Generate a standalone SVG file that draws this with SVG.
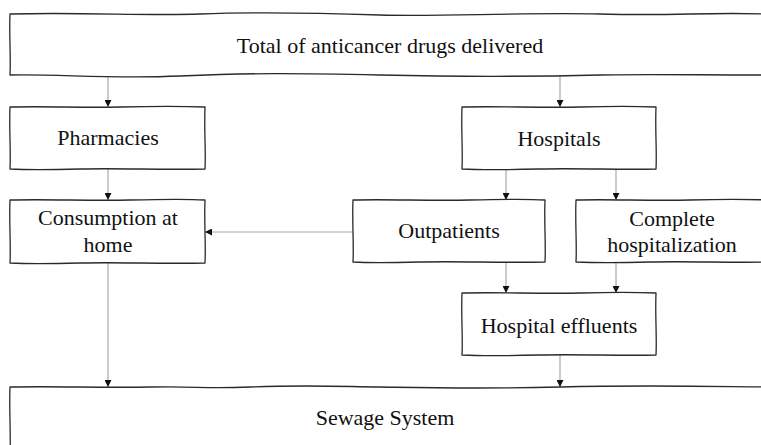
<svg xmlns="http://www.w3.org/2000/svg" width="761" height="445" viewBox="0 0 761 445">
<style>
.box{fill:#fff;stroke:#2a2a2a;stroke-width:1.3;stroke-linejoin:round}
.lbl{font-family:"Liberation Serif","Times New Roman",serif;font-size:22px;fill:#111;text-anchor:middle}
.con{stroke:#a8a8a8;stroke-width:1.2;fill:none}
</style>
<defs>
<marker id="ah" viewBox="0 0 10 10" refX="10" refY="5" markerWidth="7" markerHeight="7" markerUnits="userSpaceOnUse" orient="auto">
<path d="M0,0 L10,5 L0,10 Z" fill="#111"/>
</marker>
</defs>
<rect width="761" height="445" fill="#fff"/>
<g id="connectors">
<path class="con" d="M108,75 V107" marker-end="url(#ah)"/>
<path class="con" d="M560,75 V107" marker-end="url(#ah)"/>
<path class="con" d="M108,169 V200" marker-end="url(#ah)"/>
<path class="con" d="M506,169 V200" marker-end="url(#ah)"/>
<path class="con" d="M616,169 V200" marker-end="url(#ah)"/>
<path class="con" d="M353,232 H205" marker-end="url(#ah)"/>
<path class="con" d="M506,262 V293" marker-end="url(#ah)"/>
<path class="con" d="M616,262 V293" marker-end="url(#ah)"/>
<path class="con" d="M108,263 V387" marker-end="url(#ah)"/>
<path class="con" d="M560,355 V387" marker-end="url(#ah)"/>
</g>
<g id="total">
<path class="box" d="M10,14 C80,12 150,16 200,14 S320,13 380,15 S520,12 600,14 S700,12 770,14 L770,75 C700,75 640,74 600,75 S470,77 380,75 S250,73 180,76 S60,74 10,75 C11,55 9,35 10,14 Z"/>
<text class="lbl" x="390" y="53">Total of anticancer drugs delivered</text>
</g>
<g id="pharmacies">
<path class="box" d="M10,107 C50,106 80,108 120,107 S180,106 205,107 C204,130 206,150 205,169 C160,170 120,168 80,169 S30,170 10,169 C11,150 9,130 10,107 Z"/>
<text class="lbl" x="108" y="145">Pharmacies</text>
</g>
<g id="hospitals">
<path class="box" d="M462,107 C500,106 540,108 580,107 S630,106 656,107 C655,130 657,150 656,169 C620,170 580,168 540,169 S480,170 462,169 C463,150 461,130 462,107 Z"/>
<text class="lbl" x="559" y="146">Hospitals</text>
</g>
<g id="consumption">
<path class="box" d="M10,200 C50,199 90,201 130,200 S190,199 205,200 C204,222 206,244 205,263 C160,264 120,262 80,263 S30,264 10,263 C11,244 9,222 10,200 Z"/>
<text class="lbl" x="108" y="225">Consumption at</text>
<text class="lbl" x="108" y="252">home</text>
</g>
<g id="outpatients">
<path class="box" d="M353,200 C390,199 430,201 470,200 S530,199 545,200 C544,222 546,244 545,262 C500,263 460,261 420,262 S370,263 353,262 C354,244 352,222 353,200 Z"/>
<text class="lbl" x="449" y="238">Outpatients</text>
</g>
<g id="complete">
<path class="box" d="M576,200 C610,199 650,201 690,200 S740,199 770,200 L770,262 C730,263 690,261 650,262 S600,263 576,262 C577,244 575,222 576,200 Z"/>
<text class="lbl" x="672" y="226">Complete</text>
<text class="lbl" x="672" y="252">hospitalization</text>
</g>
<g id="effluents">
<path class="box" d="M462,293 C500,292 540,294 580,293 S630,292 656,293 C655,315 657,337 656,355 C620,356 580,354 540,355 S480,356 462,355 C463,337 461,315 462,293 Z"/>
<text class="lbl" x="559" y="333">Hospital effluents</text>
</g>
<g id="sewage">
<path class="box" d="M10,387 C60,386 100,388 150,387 S200,389 250,387 S320,386 380,387 S480,389 560,387 S680,386 770,387 L770,460 L10,460 C11,430 9,410 10,387 Z"/>
<text class="lbl" x="385" y="425">Sewage System</text>
</g>
</svg>
